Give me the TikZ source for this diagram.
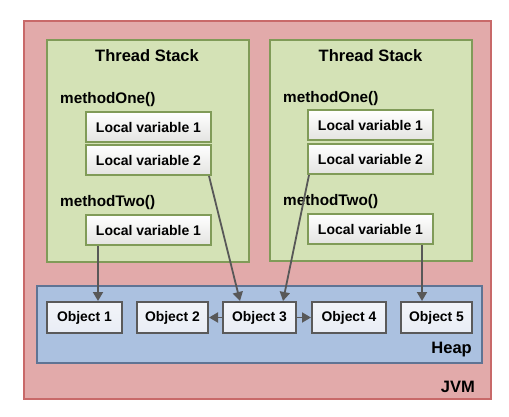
\documentclass[tikz,border=0pt]{standalone}
\usepackage{fontspec}
\setmainfont{Liberation Sans}
\usetikzlibrary{arrows.meta}
\definecolor{jvmfill}{RGB}{226,170,170}
\definecolor{jvmdraw}{RGB}{200,105,105}
\definecolor{tsfill}{RGB}{212,226,182}
\definecolor{tsdraw}{RGB}{128,155,88}
\definecolor{heapfill}{RGB}{171,193,224}
\definecolor{heapdraw}{RGB}{95,116,148}
\definecolor{lvfill}{RGB}{245,245,242}
\definecolor{objfill}{RGB}{233,237,245}
\definecolor{objdraw}{RGB}{90,90,90}
\definecolor{arr}{RGB}{88,88,88}
\tikzset{
  container/.style={draw, line width=2pt, inner sep=0pt},
  jvmbox/.style={container, draw=jvmdraw, fill=jvmfill, minimum width=467pt, minimum height=378pt},
  tsbox/.style={container, draw=tsdraw, fill=tsfill, minimum width=202pt, minimum height=221pt},
  heapbox/.style={container, draw=heapdraw, fill=heapfill, minimum width=445pt, minimum height=77pt},
  lvbox/.style={draw=tsdraw, line width=2pt, top color=white, bottom color=lvfill!85!gray, minimum width=125pt, minimum height=30pt, inner sep=0pt, font=\fontsize{14}{16}\selectfont\bfseries},
  objbox/.style={draw=objdraw, line width=2pt, top color=objfill!60!white, bottom color=objfill, minimum height=31pt, inner sep=0pt, font=\fontsize{13.9}{15}\selectfont\bfseries},
  titletext/.style={font=\fontsize{16.5}{18}\selectfont\bfseries, inner sep=0pt},
  methtext/.style={font=\fontsize{15.3}{17}\selectfont\bfseries, inner sep=0pt, anchor=base west},
  bigtext/.style={font=\fontsize{16.5}{18}\selectfont\bfseries, inner sep=0pt, anchor=base east},
  ref/.style={draw=arr, line width=1.8pt, -{Triangle[length=9pt,width=10pt]}},
}
\begin{document}
\begin{tikzpicture}[x=1pt,y=-1pt]
\useasboundingbox (0,0) rectangle (509,417);
\node[jvmbox] (jvm) at (257.5,210) {};
\node[tsbox] (ts1) at (148,151) {};
\node[tsbox] (ts2) at (370.5,150.5) {};
\node[heapbox] (heap) at (259.5,324.5) {};

\node[titletext] (t1) at (147,55.5) {Thread Stack};
\node[titletext] (t2) at (370.5,55.5) {Thread Stack};

\node[methtext] (m1a) at (60,104) {methodOne()};
\node[methtext] (m2a) at (60,207) {methodTwo()};
\node[methtext] (m1b) at (283,103) {methodOne()};
\node[methtext] (m2b) at (283,206) {methodTwo()};

\node[lvbox] (a1) at (148.5,127) {Local variable 1};
\node[lvbox] (a2) at (148.5,160) {Local variable 2};
\node[lvbox] (a3) at (148.5,230) {Local variable 1};
\node[lvbox] (b1) at (370.5,125.5) {Local variable 1};
\node[lvbox] (b2) at (370.5,159) {Local variable 2};
\node[lvbox] (b3) at (370.5,229) {Local variable 1};

\node[objbox, minimum width=75pt] (o1) at (84.5,317.5) {Object 1};
\node[objbox, minimum width=71pt] (o2) at (172.5,317.5) {Object 2};
\node[objbox, minimum width=73pt] (o3) at (259.5,317.5) {Object 3};
\node[objbox, minimum width=74pt] (o4) at (349,317.5) {Object 4};
\node[objbox, minimum width=71pt] (o5) at (436.5,317.5) {Object 5};

\node[bigtext] (hl) at (472,353) {Heap};
\node[bigtext] (jl) at (475,392) {JVM};

\draw[ref] (a3.south -| 98,0) -- (o1.north -| 98,0);
\draw[ref] ([xshift=-3pt]a2.south east) -- (o3.north -| 240,0);
\draw[ref] ([xshift=2pt]b2.south west) -- (o3.north -| 283,0);
\draw[ref] (b3.south -| 422,0) -- (o5.north -| 422,0);
\draw[ref] (o3.west) -- (o2.east);
\draw[ref] (o3.east) -- (o4.west);
\end{tikzpicture}
\end{document}
